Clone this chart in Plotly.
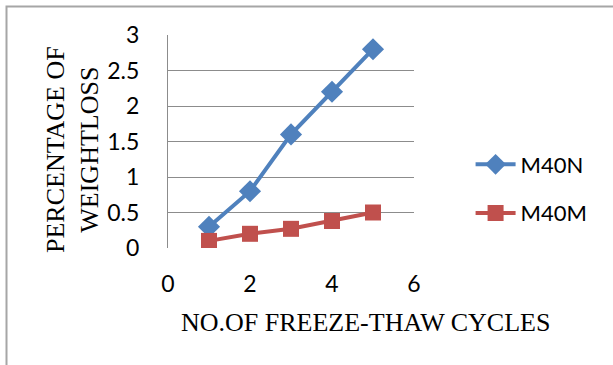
import plotly.graph_objects as go

# Freeze-thaw test results
cycles = [1, 2, 3, 4, 5]
m40n_loss = [0.30, 0.80, 1.60, 2.20, 2.80]
m40m_loss = [0.10, 0.20, 0.27, 0.38, 0.50]
series_names = ["M40N", "M40M"]

x_ticks = [0, 2, 4, 6]
y_ticks = [0, 0.5, 1, 1.5, 2, 2.5, 3]
y_tick_text = ["0", "0.5", "1", "1.5", "2", "2.5", "3"]

BLUE = "#4F81BD"
RED = "#C0504D"
GRID = "#8C8C8C"
SANS = "Lato, Open Sans, sans-serif"
TICK_FONT = dict(family=SANS, size=23, color="#000000")
TITLE_FONT = dict(family="Liberation Serif, Times New Roman, serif", size=26, color="#000000")

fig = go.Figure()
fig.add_trace(go.Scatter(
    x=cycles, y=m40n_loss, name=series_names[0], legendgroup="n",
    mode="lines+markers",
    line=dict(color=BLUE, width=4),
    marker=dict(symbol="diamond", size=17, color=BLUE),
))
fig.add_trace(go.Scatter(
    x=cycles, y=m40m_loss, name=series_names[1], legendgroup="m",
    mode="lines+markers",
    line=dict(color=RED, width=4),
    marker=dict(symbol="square", size=16, color=RED),
))

fig.update_layout(
    width=613, height=365,
    margin=dict(l=168, r=199, t=35, b=117),
    paper_bgcolor="white", plot_bgcolor="white",
    showlegend=True,
    legend=dict(
        x=1.23, y=0.277, xanchor="left", yanchor="middle",
        font=dict(family=SANS, size=22, color="#000000"),
        tracegroupgap=17, itemwidth=40, bgcolor="rgba(0,0,0,0)",
    ),
    xaxis=dict(
        range=[0, 6], tickvals=x_ticks, showgrid=False, zeroline=False,
        showline=False, ticks="", tickfont=TICK_FONT, ticklabelstandoff=20,
    ),
    yaxis=dict(
        range=[0, 3], tickvals=y_ticks, ticktext=y_tick_text,
        showgrid=True, gridcolor=GRID, gridwidth=1.3,
        zeroline=False, showline=True, linecolor=GRID, linewidth=1.3,
        ticks="", tickfont=TICK_FONT, ticklabelstandoff=23,
    ),
    annotations=[
        dict(text="NO.OF FREEZE-THAW CYCLES", xref="paper", yref="paper",
             x=(365 - 168) / 246, y=-(322 - 248) / 213, showarrow=False,
             xanchor="center", yanchor="middle", font=TITLE_FONT),
        dict(text="PERCENTAGE OF<br>WEIGHTLOSS", xref="paper", yref="paper",
             x=-(168 - 72) / 246, y=(248 - 150) / 213, showarrow=False,
             textangle=-90, xanchor="center", yanchor="middle", font=TITLE_FONT),
    ],
    shapes=[
        dict(type="rect", xref="paper", yref="paper",
             x0=-(168 - 6.5) / 246, y0=-(380 - 248) / 213,
             x1=(640 - 168) / 246, y1=(248 - 6.5) / 213,
             line=dict(color="#A6A6A6", width=2), layer="below"),
    ],
)

fig.write_html("out.html")
